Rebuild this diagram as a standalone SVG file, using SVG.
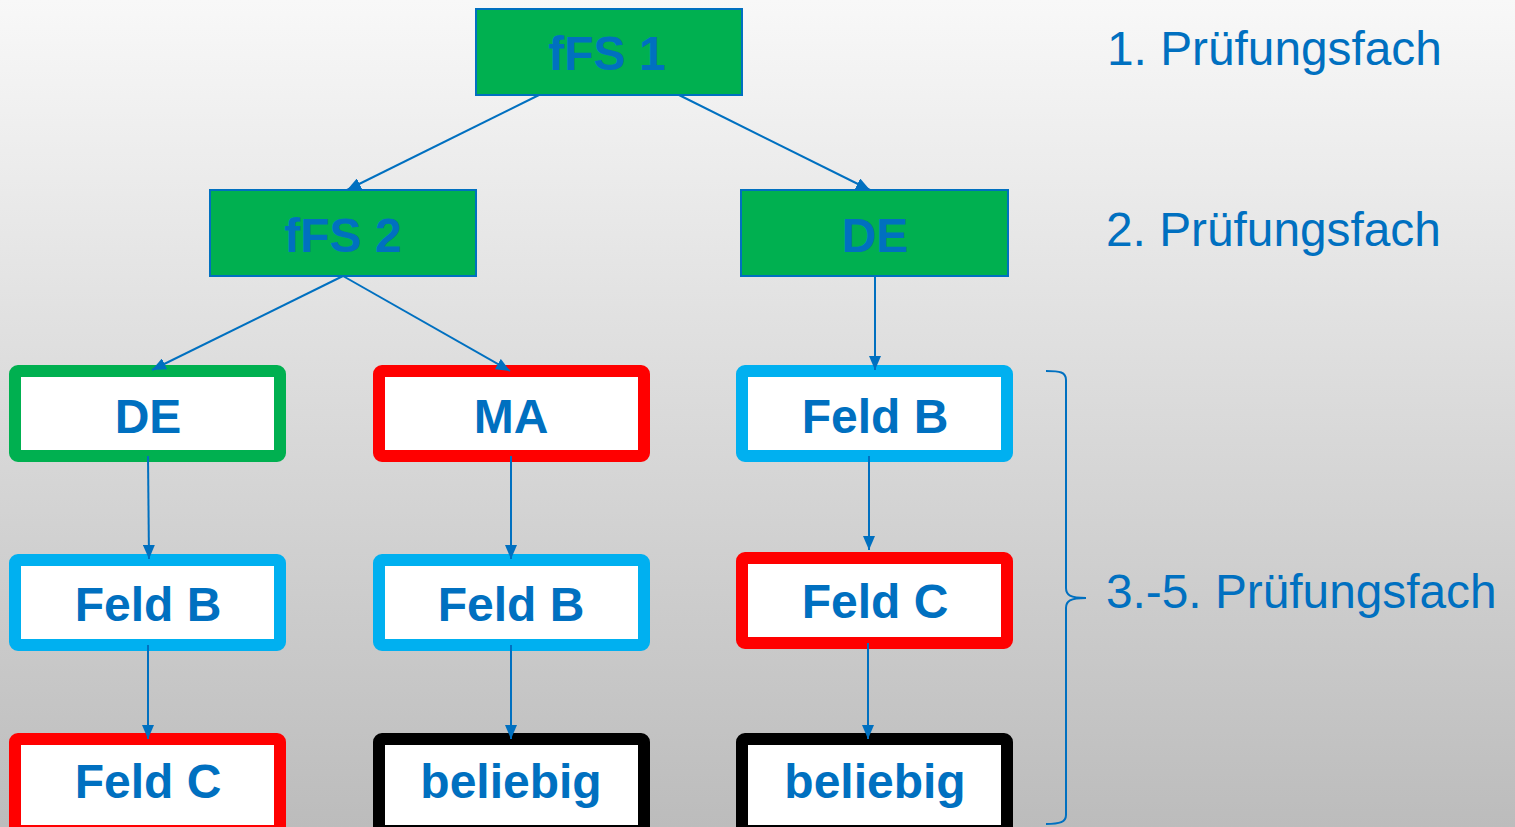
<svg xmlns="http://www.w3.org/2000/svg" width="1515" height="827" viewBox="0 0 1515 827">
<defs>
<linearGradient id="bg" x1="0" y1="0" x2="0" y2="1">
<stop offset="0" stop-color="#f8f8f8"/>
<stop offset="1" stop-color="#bcbcbc"/>
</linearGradient>
<marker id="arr" markerUnits="userSpaceOnUse" markerWidth="14" markerHeight="12" refX="14" refY="6" orient="auto">
<path d="M0,0 L14,6 L0,12 z" fill="#0070c0"/>
</marker>
<style>
.top{fill:#00b050;stroke:#0070c0;stroke-width:2}
.box{fill:#ffffff;stroke-width:12}
.g{stroke:#00b050}.r{stroke:#ff0000}.c{stroke:#00b0f0}.k{stroke:#000000}
.t{font-family:"Liberation Sans",Arial,sans-serif;font-weight:bold;font-size:48px;fill:#0070c0;text-anchor:middle}
.lbl{font-family:"Liberation Sans",Arial,sans-serif;font-size:47.8px;fill:#0070c0}
.con{stroke:#0070c0;stroke-width:2;fill:none;marker-end:url(#arr)}
</style>
</defs>
<rect x="0" y="0" width="1515" height="827" fill="url(#bg)"/>

<g id="n-ffs1"><rect class="top" x="476" y="9" width="266" height="86"/><text class="t" x="607" y="70">fFS 1</text></g>
<g id="n-ffs2"><rect class="top" x="210" y="190" width="266" height="86"/><text class="t" x="343" y="252">fFS 2</text></g>
<g id="n-de2"><rect class="top" x="741" y="190" width="267" height="86"/><text class="t" x="875" y="252">DE</text></g>

<g id="n-de3"><rect class="box g" x="15" y="371" width="265" height="85" rx="3"/><text class="t" x="148" y="433">DE</text></g>
<g id="n-ma"><rect class="box r" x="379" y="371" width="265" height="85" rx="3"/><text class="t" x="511" y="433">MA</text></g>
<g id="n-feldb-r"><rect class="box c" x="742" y="371" width="265" height="85" rx="3"/><text class="t" x="875" y="433">Feld B</text></g>

<g id="n-feldb-l"><rect class="box c" x="15" y="560" width="265" height="85" rx="3"/><text class="t" x="148" y="621">Feld B</text></g>
<g id="n-feldb-m"><rect class="box c" x="379" y="560" width="265" height="85" rx="3"/><text class="t" x="511" y="621">Feld B</text></g>
<g id="n-feldc-r"><rect class="box r" x="742" y="558" width="265" height="85" rx="3"/><text class="t" x="875" y="618">Feld C</text></g>

<g id="n-feldc-l"><rect class="box r" x="15" y="739" width="265" height="92" rx="3"/><text class="t" x="148" y="798">Feld C</text></g>
<g id="n-bel-m"><rect class="box k" x="379" y="739" width="265" height="92" rx="3"/><text class="t" x="511" y="798">beliebig</text></g>
<g id="n-bel-r"><rect class="box k" x="742" y="739" width="265" height="92" rx="3"/><text class="t" x="875" y="798">beliebig</text></g>

<g id="connectors">
<line class="con" x1="539" y1="95" x2="347" y2="190"/>
<line class="con" x1="679" y1="95" x2="870" y2="190"/>
<line class="con" x1="343" y1="276" x2="152" y2="370"/>
<line class="con" x1="343" y1="276" x2="510" y2="371"/>
<line class="con" x1="875" y1="276" x2="875" y2="370"/>
<line class="con" x1="148" y1="456" x2="149" y2="559"/>
<line class="con" x1="511" y1="456" x2="511" y2="559"/>
<line class="con" x1="869" y1="456" x2="869" y2="550"/>
<line class="con" x1="148" y1="645" x2="148" y2="739"/>
<line class="con" x1="511" y1="645" x2="511" y2="739"/>
<line class="con" x1="868" y1="643" x2="868" y2="739"/>
</g>

<g id="brace"><path d="M1046,371 C1060,371 1066,372 1066,380 L1066,588 C1066,595 1070,598 1086,598 C1070,598 1066,601 1066,608 L1066,815 C1066,822 1060,824 1046,824" fill="none" stroke="#0070c0" stroke-width="2"/></g>

<g id="labels">
<text class="lbl" x="1107" y="65">1. Prüfungsfach</text>
<text class="lbl" x="1106" y="246">2. Prüfungsfach</text>
<text class="lbl" x="1106" y="608">3.-5. Prüfungsfach</text>
</g>
</svg>
